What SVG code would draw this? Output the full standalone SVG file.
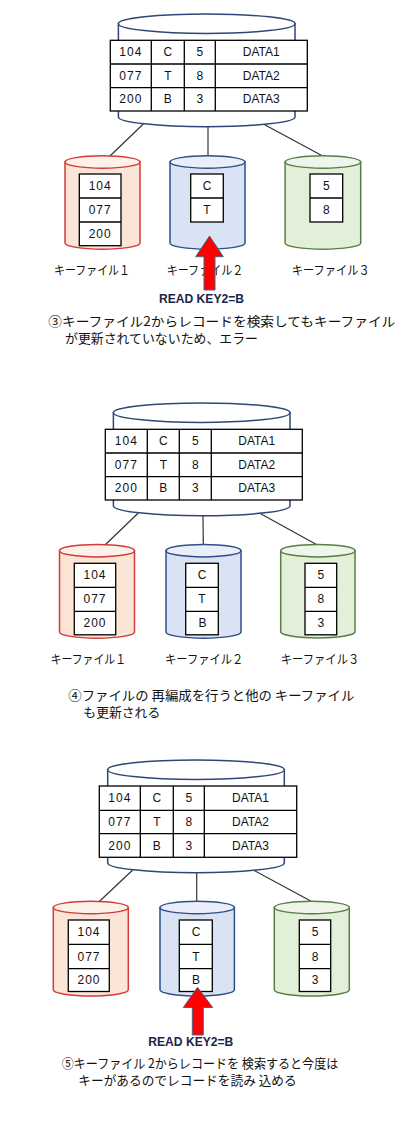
<svg xmlns="http://www.w3.org/2000/svg" width="417" height="1141" viewBox="0 0 417 1141">
<style>
.main-body{fill:#ffffff;stroke:#2f4776;stroke-width:1.5}
.kf1-body{fill:#fbe5d6;stroke:#d43a3a;stroke-width:1.5}
.kf1-top{fill:#fdf1e9;stroke:#d43a3a;stroke-width:1.5}
.kf2-body{fill:#dae3f3;stroke:#2f4f8a;stroke-width:1.5}
.kf2-top{fill:#e9eef8;stroke:#2f4f8a;stroke-width:1.5}
.kf3-body{fill:#e2efd9;stroke:#5a7d44;stroke-width:1.5}
.kf3-top{fill:#eef5ea;stroke:#5a7d44;stroke-width:1.5}
.cell{fill:#ffffff;stroke:#000000;stroke-width:1.3}
.grid{stroke:#000000;stroke-width:1.3;fill:none}
.conn line{stroke:#333333;stroke-width:1.2}
.t{font-family:"Liberation Sans",Arial,sans-serif;font-size:12px;fill:#111111;text-anchor:middle;dominant-baseline:central}
.num{letter-spacing:1px}
.lbl{font-family:"Noto Sans CJK JP","Liberation Sans",sans-serif;font-size:12.5px;fill:#111111}
.cap{font-family:"Noto Sans CJK JP","Liberation Sans",sans-serif;font-size:13px;fill:#111111}
.read{font-family:"Liberation Sans",Arial,sans-serif;font-size:12px;font-weight:bold;fill:#1b2548}
.arrow{fill:#ff0000;stroke:#4f5f85;stroke-width:1}
</style>

<!-- connectors -->
<g id="connectors" class="conn">
<line x1="143.3" y1="124" x2="110" y2="156"/>
<line x1="208" y1="126.5" x2="208" y2="156"/>
<line x1="263.3" y1="124" x2="322.7" y2="156"/>
<line x1="138.3" y1="513" x2="105" y2="545"/>
<line x1="203" y1="515.5" x2="203.3" y2="545"/>
<line x1="259.3" y1="513" x2="317.3" y2="545"/>
<line x1="132.7" y1="870" x2="99.3" y2="901.5"/>
<line x1="196.7" y1="872.5" x2="196.7" y2="901.5"/>
<line x1="253.3" y1="870" x2="310.7" y2="901"/>
</g>

<!-- ===== Section ③ ===== -->
<g id="main1">
<path class="main-body" d="M118.4,23.7 V117 A88.3,9.7 0 0 0 295,117 V23.7 Z"/>
<ellipse class="main-body" cx="206.7" cy="23.7" rx="88.3" ry="9.7"/>
<rect class="cell" x="110.3" y="40.3" width="197" height="70.7"/>
<path class="grid" d="M110.3,64 H307.3 M110.3,87.7 H307.3 M151.3,40.3 V111 M184.3,40.3 V111 M215.3,40.3 V111"/>
<text class="t num" x="130.8" y="52.2">104</text><text class="t" x="167.8" y="52.2">C</text><text class="t" x="199.8" y="52.2">5</text><text class="t" x="261.3" y="52.2">DATA1</text>
<text class="t num" x="130.8" y="75.9">077</text><text class="t" x="167.8" y="75.9">T</text><text class="t" x="199.8" y="75.9">8</text><text class="t" x="261.3" y="75.9">DATA2</text>
<text class="t num" x="130.8" y="99.4">200</text><text class="t" x="167.8" y="99.4">B</text><text class="t" x="199.8" y="99.4">3</text><text class="t" x="261.3" y="99.4">DATA3</text>
</g>

<g id="kf1-a">
<path class="kf1-body" d="M65,162 V243 A37.5,6.2 0 0 0 140,243 V162 Z"/>
<ellipse class="kf1-top" cx="102.5" cy="162" rx="37.5" ry="6.2"/>
<rect class="cell" x="79.3" y="174" width="41.7" height="71.7"/>
<path class="grid" d="M79.3,198 H121 M79.3,222 H121"/>
<text class="t num" x="100.2" y="186">104</text><text class="t num" x="100.2" y="210">077</text><text class="t num" x="100.2" y="234">200</text>
<text class="lbl" x="54" y="275" textLength="76" lengthAdjust="spacingAndGlyphs">キーファイル１</text>
</g>
<g id="kf2-a">
<path class="kf2-body" d="M170,162 V243 A37.5,6.2 0 0 0 245,243 V162 Z"/>
<ellipse class="kf2-top" cx="207.5" cy="162" rx="37.5" ry="6.2"/>
<rect class="cell" x="190.7" y="174" width="32.6" height="48"/>
<path class="grid" d="M190.7,198 H223.3"/>
<text class="t" x="207" y="186">C</text><text class="t" x="207" y="210">T</text>
<text class="lbl" x="166.7" y="275" textLength="76.6" lengthAdjust="spacingAndGlyphs">キーファイル２</text>
</g>
<g id="kf3-a">
<path class="kf3-body" d="M285.1,162 V243 A37.8,6.2 0 0 0 360.7,243 V162 Z"/>
<ellipse class="kf3-top" cx="322.9" cy="162" rx="37.8" ry="6.2"/>
<rect class="cell" x="310" y="174" width="32.7" height="48"/>
<path class="grid" d="M310,198 H342.7"/>
<text class="t" x="326.3" y="186">5</text><text class="t" x="326.3" y="210">8</text>
<text class="lbl" x="291.7" y="275" textLength="78" lengthAdjust="spacingAndGlyphs">キーファイル３</text>
</g>

<g id="arrow-a">
<path class="arrow" d="M209.5,236 L223.3,256.7 L215,256.7 L215,290 L204,290 L204,256.7 L195.7,256.7 Z"/>
<text class="read" x="159" y="303" textLength="85" lengthAdjust="spacingAndGlyphs">READ KEY2=B</text>
</g>

<g id="caption-3">
<text class="cap" x="48.3" y="326" textLength="347" lengthAdjust="spacingAndGlyphs">③キーファイル2からレコードを検索してもキーファイル</text>
<text class="cap" x="65" y="343" textLength="193" lengthAdjust="spacingAndGlyphs">が更新されていないため、エラー</text>
</g>

<!-- ===== Section ④ ===== -->
<g id="main2">
<path class="main-body" d="M113.4,412.7 V506 A88.3,9.7 0 0 0 290,506 V412.7 Z"/>
<ellipse class="main-body" cx="201.7" cy="412.7" rx="88.3" ry="9.7"/>
<rect class="cell" x="105.3" y="429.3" width="197" height="70.7"/>
<path class="grid" d="M105.3,453 H302.3 M105.3,476.7 H302.3 M147.3,429.3 V500 M179.3,429.3 V500 M211.3,429.3 V500"/>
<text class="t num" x="126.3" y="441.2">104</text><text class="t" x="163.3" y="441.2">C</text><text class="t" x="195.3" y="441.2">5</text><text class="t" x="256.8" y="441.2">DATA1</text>
<text class="t num" x="126.3" y="464.9">077</text><text class="t" x="163.3" y="464.9">T</text><text class="t" x="195.3" y="464.9">8</text><text class="t" x="256.8" y="464.9">DATA2</text>
<text class="t num" x="126.3" y="488.4">200</text><text class="t" x="163.3" y="488.4">B</text><text class="t" x="195.3" y="488.4">3</text><text class="t" x="256.8" y="488.4">DATA3</text>
</g>

<g id="kf1-b">
<path class="kf1-body" d="M59.5,550.7 V632 A37.5,6.2 0 0 0 134.5,632 V550.7 Z"/>
<ellipse class="kf1-top" cx="97" cy="550.7" rx="37.5" ry="6.2"/>
<rect class="cell" x="74.3" y="563.3" width="41.4" height="71.5"/>
<path class="grid" d="M74.3,587.3 H115.7 M74.3,611.3 H115.7"/>
<text class="t num" x="95" y="575.3">104</text><text class="t num" x="95" y="599.3">077</text><text class="t num" x="95" y="623.3">200</text>
<text class="lbl" x="50.7" y="664" textLength="75.3" lengthAdjust="spacingAndGlyphs">キーファイル１</text>
</g>
<g id="kf2-b">
<path class="kf2-body" d="M166,550.7 V632 A37.5,6.2 0 0 0 241,632 V550.7 Z"/>
<ellipse class="kf2-top" cx="203.5" cy="550.7" rx="37.5" ry="6.2"/>
<rect class="cell" x="185.7" y="563.3" width="32.6" height="71.5"/>
<path class="grid" d="M185.7,587.3 H218.3 M185.7,611.3 H218.3"/>
<text class="t" x="202" y="575.3">C</text><text class="t" x="202" y="599.3">T</text><text class="t" x="202.5" y="623.3">B</text>
<text class="lbl" x="165" y="664" textLength="78.3" lengthAdjust="spacingAndGlyphs">キーファイル２</text>
</g>
<g id="kf3-b">
<path class="kf3-body" d="M280.7,550.7 V632 A37.2,6.2 0 0 0 355,632 V550.7 Z"/>
<ellipse class="kf3-top" cx="317.9" cy="550.7" rx="37.2" ry="6.2"/>
<rect class="cell" x="305" y="563.3" width="31.7" height="71.5"/>
<path class="grid" d="M305,587.3 H336.7 M305,611.3 H336.7"/>
<text class="t" x="320.8" y="575.3">5</text><text class="t" x="320.8" y="599.3">8</text><text class="t" x="320.8" y="623.3">3</text>
<text class="lbl" x="280.7" y="664" textLength="78.6" lengthAdjust="spacingAndGlyphs">キーファイル３</text>
</g>

<g id="caption-4">
<text class="cap" x="68.3" y="699.5" textLength="286" lengthAdjust="spacingAndGlyphs">④ファイルの 再編成を行うと他の キーファイル</text>
<text class="cap" x="83.3" y="716.5" textLength="77" lengthAdjust="spacingAndGlyphs">も更新される</text>
</g>

<!-- ===== Section ⑤ ===== -->
<g id="main3">
<path class="main-body" d="M107.7,769.7 V863 A88.3,9.7 0 0 0 284.3,863 V769.7 Z"/>
<ellipse class="main-body" cx="196" cy="769.7" rx="88.3" ry="9.7"/>
<rect class="cell" x="99.3" y="786" width="197.4" height="71.3"/>
<path class="grid" d="M99.3,810.3 H296.7 M99.3,833.7 H296.7 M140.3,786 V857.3 M173.3,786 V857.3 M204.3,786 V857.3"/>
<text class="t num" x="119.8" y="798.2">104</text><text class="t" x="156.8" y="798.2">C</text><text class="t" x="188.8" y="798.2">5</text><text class="t" x="250.5" y="798.2">DATA1</text>
<text class="t num" x="119.8" y="822">077</text><text class="t" x="156.8" y="822">T</text><text class="t" x="188.8" y="822">8</text><text class="t" x="250.5" y="822">DATA2</text>
<text class="t num" x="119.8" y="845.5">200</text><text class="t" x="156.8" y="845.5">B</text><text class="t" x="188.8" y="845.5">3</text><text class="t" x="250.5" y="845.5">DATA3</text>
</g>

<g id="kf1-c">
<path class="kf1-body" d="M53.3,907.5 V989.8 A37.5,6.2 0 0 0 128.3,989.8 V907.5 Z"/>
<ellipse class="kf1-top" cx="90.8" cy="907.5" rx="37.5" ry="6.2"/>
<rect class="cell" x="68.3" y="920" width="41" height="71.5"/>
<path class="grid" d="M68.3,944.3 H109.3 M68.3,968.7 H109.3"/>
<text class="t num" x="89" y="932.2">104</text><text class="t num" x="89" y="956.5">077</text><text class="t num" x="89" y="980">200</text>
</g>
<g id="kf2-c">
<path class="kf2-body" d="M160,907.5 V989.8 A37.2,6.2 0 0 0 234.4,989.8 V907.5 Z"/>
<ellipse class="kf2-top" cx="197.2" cy="907.5" rx="37.2" ry="6.2"/>
<rect class="cell" x="179.3" y="920" width="33" height="71.5"/>
<path class="grid" d="M179.3,944.3 H212.3 M179.3,968.7 H212.3"/>
<text class="t" x="196" y="932.2">C</text><text class="t" x="196" y="956.5">T</text><text class="t" x="196" y="980">B</text>
</g>
<g id="kf3-c">
<path class="kf3-body" d="M274.3,907.5 V989.8 A37.5,6.2 0 0 0 349.3,989.8 V907.5 Z"/>
<ellipse class="kf3-top" cx="311.8" cy="907.5" rx="37.5" ry="6.2"/>
<rect class="cell" x="299.3" y="920" width="31.4" height="71.5"/>
<path class="grid" d="M299.3,944.3 H330.7 M299.3,968.7 H330.7"/>
<text class="t" x="315" y="932.2">5</text><text class="t" x="315" y="956.5">8</text><text class="t" x="315" y="980">3</text>
</g>

<g id="arrow-c">
<path class="arrow" d="M197.5,987.3 L212.7,1007.5 L203.3,1007.5 L203.3,1035 L192.3,1035 L192.3,1007.5 L183.3,1007.5 Z"/>
<text class="read" x="148.3" y="1046" textLength="85" lengthAdjust="spacingAndGlyphs">READ KEY2=B</text>
</g>

<g id="caption-5">
<text class="cap" x="61.7" y="1068" textLength="276.6" lengthAdjust="spacingAndGlyphs">⑤キーファイル 2からレコードを 検索すると今度は</text>
<text class="cap" x="78.3" y="1085" textLength="218.4" lengthAdjust="spacingAndGlyphs">キーがあるのでレコードを読み 込める</text>
</g>
</svg>
